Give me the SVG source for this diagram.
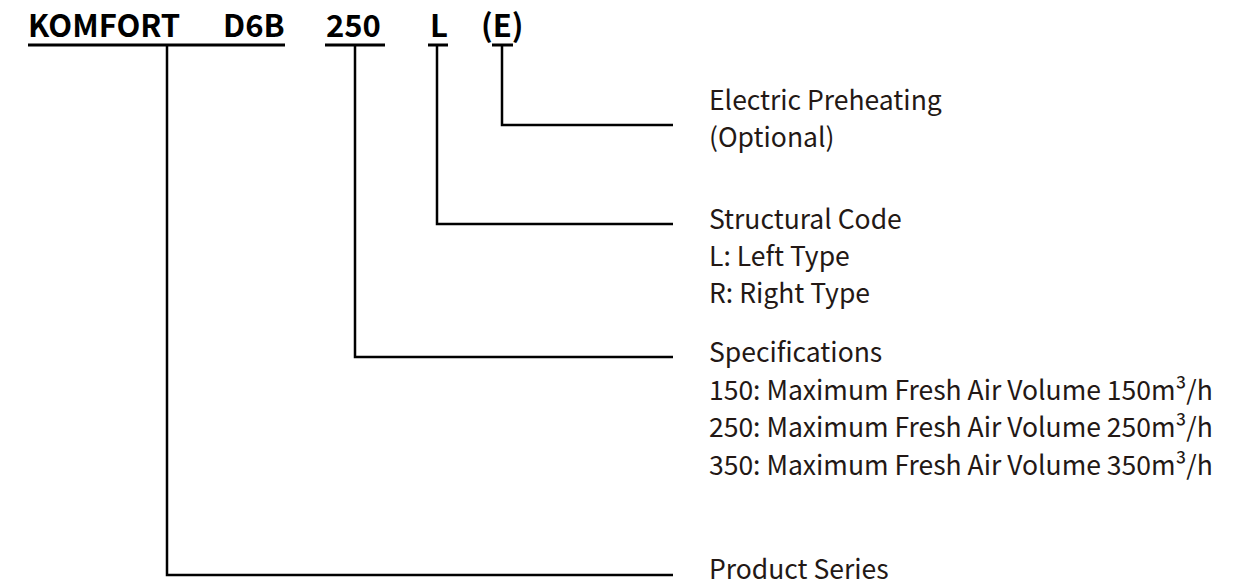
<svg xmlns="http://www.w3.org/2000/svg" width="1256" height="585" viewBox="0 0 1256 585">
<style>
.title{font-family:"Noto Sans CJK SC","Noto Sans",sans-serif;font-weight:700;font-size:31px;fill:#000}
.lbl{font-family:"Noto Sans CJK SC","Noto Sans",sans-serif;font-size:26.5px;fill:#231815}
.ul{stroke:#000;stroke-width:3;fill:none}
.conn{stroke:#000;stroke-width:2.5;fill:none}
</style>
<rect width="1256" height="585" fill="#fff"/>
<g id="code">
<text class="title" x="28" y="37">KOMFORT</text>
<text class="title" x="223" y="37">D6B</text>
<text class="title" x="326" y="37">250</text>
<text class="title" x="430" y="37">L</text>
<text class="title" x="481" y="37">(E)</text>
<line class="ul" x1="28" y1="45" x2="285" y2="45"/>
<line class="ul" x1="325" y1="45" x2="385" y2="45"/>
<line class="ul" x1="428" y1="45" x2="448" y2="45"/>
<line class="ul" x1="492" y1="45" x2="513" y2="45"/>
</g>
<g id="connectors">
<polyline class="conn" points="502,45 502,125 673,125"/>
<polyline class="conn" points="437,45 437,224 673,224"/>
<polyline class="conn" points="355,45 355,357 673,357"/>
<polyline class="conn" points="167,45 167,575 673,575"/>
</g>
<g id="electric">
<text class="lbl" x="709" y="109.5">Electric Preheating</text>
<text class="lbl" x="709" y="146.5">(Optional)</text>
</g>
<g id="structural">
<text class="lbl" x="709" y="228.5">Structural Code</text>
<text class="lbl" x="709" y="265.5">L: Left Type</text>
<text class="lbl" x="709" y="302.5">R: Right Type</text>
</g>
<g id="specifications">
<text class="lbl" x="709" y="362">Specifications</text>
<text class="lbl" x="709" y="399.5">150: Maximum Fresh Air Volume 150m³/h</text>
<text class="lbl" x="709" y="437">250: Maximum Fresh Air Volume 250m³/h</text>
<text class="lbl" x="709" y="474.5">350: Maximum Fresh Air Volume 350m³/h</text>
</g>
<g id="series">
<text class="lbl" x="709" y="579">Product Series</text>
</g>
</svg>
